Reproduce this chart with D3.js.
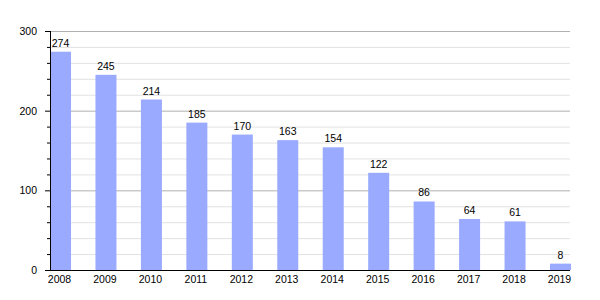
<!DOCTYPE html>
<html><head><meta charset="utf-8">
<script src="https://cdn.jsdelivr.net/npm/d3@7"></script>
<style>body{margin:0;background:#fff}svg{display:block}text{font-family:"Liberation Sans",Arial,sans-serif}</style>
</head><body><svg id="c" width="600" height="300"></svg>
<script>
const years = ["2008","2009","2010","2011","2012","2013","2014","2015","2016","2017","2018","2019"];
const values = [274,245,214,185,170,163,154,122,86,64,61,8];
const yTicks = [0,100,200,300];
const yMinor = [20,40,60,80,120,140,160,180,220,240,260,280];

(function(){
const svg = d3.select("#c");
const mLeft = 50, mRight = 570, mTop = 31, mBottom = 270;
const y = d3.scaleLinear().domain([0,300]).range([mBottom, mTop]);
const step = (550-50)/11;
const x = d3.scaleBand().domain(years).range([mLeft, mLeft + step*12]).padding(0);
const bw = 21;
const xc = d => x(d);
const fs = 10.5;

// gridlines
svg.append("g").selectAll("line").data(yMinor).join("line")
  .attr("x1", mLeft).attr("x2", mRight).attr("y1", d=>y(d)+0.5).attr("y2", d=>y(d)+0.5)
  .attr("stroke", "#e2e2e2").attr("stroke-width", 1);
svg.append("g").selectAll("line").data(yTicks.filter(d=>d>0)).join("line")
  .attr("x1", mLeft).attr("x2", mRight).attr("y1", d=>y(d)+0.5).attr("y2", d=>y(d)+0.5)
  .attr("stroke", "#b0b0b0").attr("stroke-width", 1);

// bars
svg.append("g").selectAll("rect").data(values).join("rect")
  .attr("x", (d,i)=>xc(years[i])).attr("width", bw)
  .attr("y", d=>y(d)).attr("height", d=>mBottom - y(d))
  .attr("fill", "#99aaff");

// value labels
svg.append("g").selectAll("text").data(values).join("text")
  .attr("x", (d,i)=>xc(years[i]) + bw/2).attr("y", d=>y(d)-5)
  .attr("text-anchor","middle").attr("font-size", fs).attr("fill","#000")
  .text(d=>d);

// y axis
const yAxis = d3.axisLeft(y).tickValues(yTicks).tickSize(5).tickPadding(8).tickFormat(d3.format("d"));
const gy = svg.append("g").attr("transform", `translate(${mLeft},0)`).call(yAxis);
gy.select(".domain").remove();
gy.selectAll("text").attr("font-size", fs).attr("font-family","Liberation Sans, Arial, sans-serif").attr("fill","#000");
gy.selectAll(".tick line").attr("stroke","#000");
svg.append("g").selectAll("line").data(yMinor).join("line")
  .attr("x1", mLeft-3).attr("x2", mLeft).attr("y1", d=>y(d)+0.5).attr("y2", d=>y(d)+0.5)
  .attr("stroke","#000");
svg.append("line").attr("x1", mLeft+0.5).attr("x2", mLeft+0.5).attr("y1", mTop).attr("y2", mBottom+1).attr("stroke","#000");

// x axis
svg.append("line").attr("x1", mLeft).attr("x2", mRight).attr("y1", mBottom+0.5).attr("y2", mBottom+0.5).attr("stroke","#000");
svg.append("g").selectAll("text").data(years).join("text")
  .attr("x", d=>xc(d) + bw/2 - 1).attr("y", mBottom+13)
  .attr("text-anchor","middle").attr("font-size", fs).attr("fill","#000")
  .text(d=>d);
})();
</script></body></html>
